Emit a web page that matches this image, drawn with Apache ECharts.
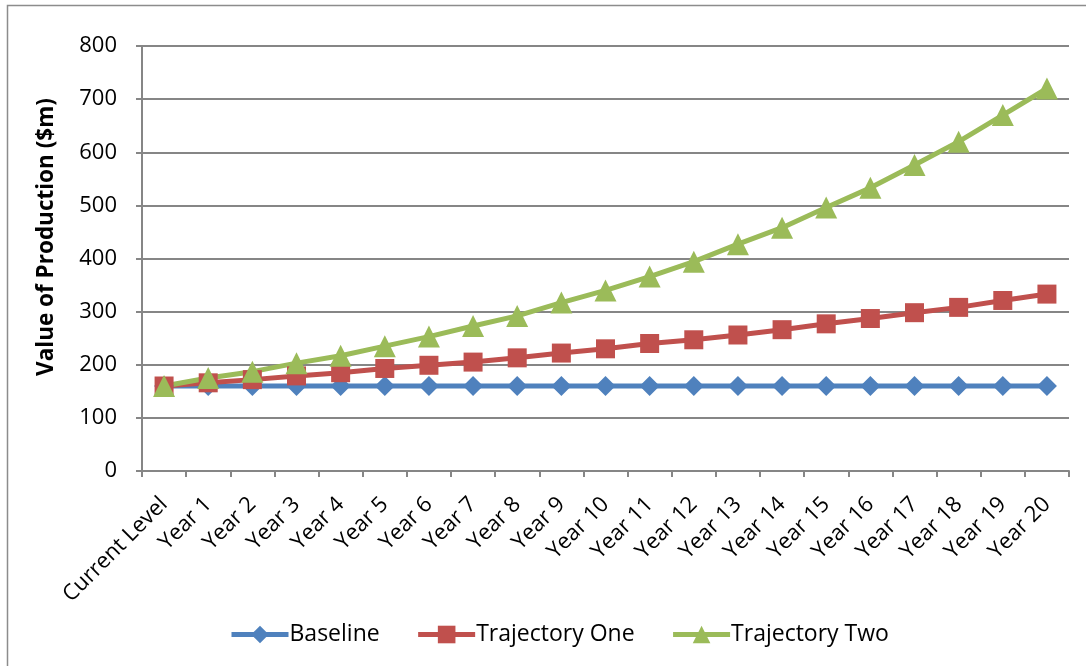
<!DOCTYPE html>
<html>
<head>
<meta charset="utf-8">
<script src="https://cdn.jsdelivr.net/npm/echarts@6/dist/echarts.min.js"></script>
<style>
html,body{margin:0;padding:0;background:#fff;}
#chart{width:1086px;height:666px;}
</style>
</head>
<body>
<div id="chart"></div>
<script>
var categories = ['Current Level','Year 1','Year 2','Year 3','Year 4','Year 5','Year 6','Year 7','Year 8','Year 9','Year 10',
  'Year 11','Year 12','Year 13','Year 14','Year 15','Year 16','Year 17','Year 18','Year 19','Year 20'];
var baseline = [160,160,160,160,160,160,160,160,160,160,160,160,160,160,160,160,160,160,160,160,160];
var trajectoryOne = [160,166,172,179,185,193,199,205,213,222,230,240,247,256,266,277,287,298,308,321,333];
var trajectoryTwo = [160,175,187,203,217,235,253,273,292,317,340,366,394,427,458,496,533,576,620,670,720];
var yTicks = {min:0, max:800, interval:100};
var yTitle = 'Value of Production ($m)';

var FONT = '"Open Sans", sans-serif';
var chart = echarts.init(document.getElementById('chart'));
chart.setOption({
  animation:false,
  backgroundColor:'#fff',
  textStyle:{fontFamily:FONT},
  grid:{left:142, right:17, top:46, bottom:195, containLabel:false},
  graphic:[
    {type:'rect', shape:{x:7.5,y:5.5,width:1100,height:700}, style:{fill:'none',stroke:'#8c8c8c',lineWidth:1.5}, silent:true},
    {type:'text', x:47, y:237, rotation:Math.PI/2, style:{text:yTitle, font:'bold 22.5px '+FONT, fill:'#000', align:'center', verticalAlign:'middle'}}
  ],
  legend:{
    top:618, left:224,
    itemWidth:57, itemHeight:22, itemGap:36,
    lineStyle:{width:5},
    textStyle:{fontSize:23, color:'#000', fontFamily:FONT, padding:[0,0,0,-4]},
    data:['Baseline','Trajectory One','Trajectory Two']
  },
  xAxis:{
    type:'category', data:categories, boundaryGap:true,
    axisLine:{lineStyle:{color:'#868686', width:2}},
    axisTick:{show:true, interval:0, alignWithLabel:false, length:6, lineStyle:{color:'#868686', width:2}},
    axisLabel:{interval:0, rotate:45, fontSize:22, color:'#000', margin:30, fontFamily:FONT}
  },
  yAxis:{
    type:'value', min:yTicks.min, max:yTicks.max, interval:yTicks.interval,
    axisLine:{show:true, lineStyle:{color:'#868686', width:2}},
    axisTick:{show:true, length:6, lineStyle:{color:'#868686', width:2}},
    axisLabel:{fontSize:22, color:'#000', margin:25, fontFamily:FONT},
    splitLine:{lineStyle:{color:'#868686', width:2}}
  },
  series:[
    {name:'Baseline', type:'line', data:baseline, symbol:'diamond', symbolSize:20,
     lineStyle:{width:5, color:'#4F81BD'}, itemStyle:{color:'#4F81BD'}},
    {name:'Trajectory One', type:'line', data:trajectoryOne, symbol:'rect', symbolSize:19,
     lineStyle:{width:5, color:'#C0504D'}, itemStyle:{color:'#C0504D'}},
    {name:'Trajectory Two', type:'line', data:trajectoryTwo, symbol:'triangle', symbolSize:22,
     lineStyle:{width:5, color:'#9BBB59'}, itemStyle:{color:'#9BBB59'}}
  ]
});
</script>
</body>
</html>
